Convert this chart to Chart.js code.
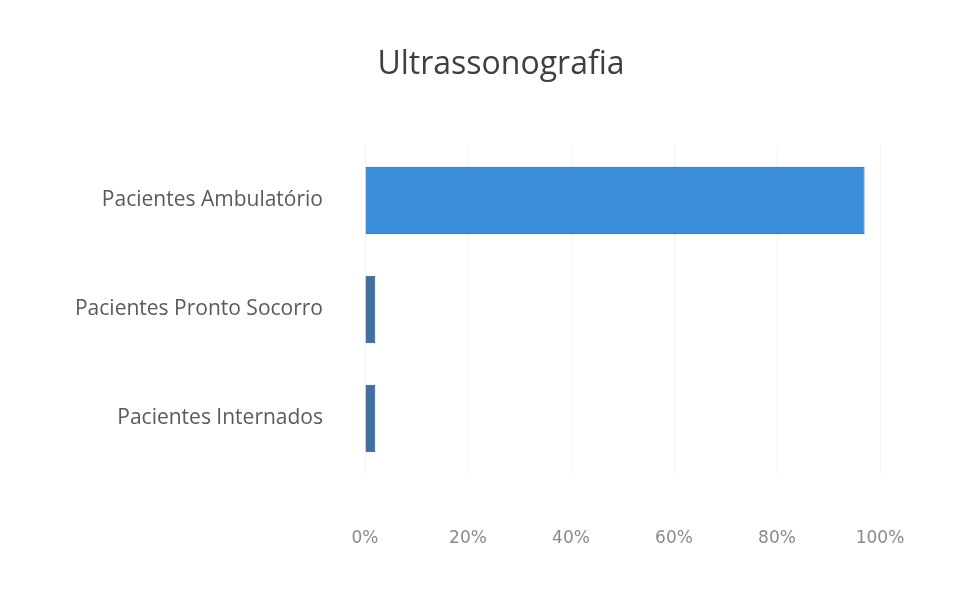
<!DOCTYPE html>
<html lang="pt">
<head>
<meta charset="UTF-8">
<title>Ultrassonografia</title>
<style>
  body { margin:0; padding:0; background:#fff; }
  #wrap { width:978px; height:605px; }
</style>
</head>
<body>
<div id="wrap"><canvas id="chart" width="978" height="605"></canvas></div>

<script src="https://cdn.jsdelivr.net/npm/chart.js@4"></script>
<script>
const titulo = 'Ultrassonografia';
const categorias = ["Pacientes Ambulatório", "Pacientes Pronto Socorro", "Pacientes Internados"];
const valores = [97, 2, 2];
const cores = ["#3b8dd8", "#41709f", "#41709f"];
const ticksX = [0, 20, 40, 60, 80, 100];

// title is drawn by hand: the scan has it centred over the page, not over the plot
const tituloPlugin = {
  id: 'tituloPlugin',
  afterDraw(chart) {
    const c = chart.ctx;
    c.save();
    c.font = '32px "Open Sans"';
    c.fillStyle = '#3f3f3f';
    c.textAlign = 'center';
    c.textBaseline = 'middle';
    c.fillText(titulo, 501, 65);
    c.restore();
  }
};

const ctx = document.getElementById('chart').getContext('2d');
new Chart(ctx, {
  type: 'bar',
  data: {
    labels: categorias,
    datasets: [{ data: valores, backgroundColor: cores, borderColor: '#2b4f73', borderWidth: 1,
                 barPercentage: 0.62, categoryPercentage: 1 }]
  },
  options: {
    indexAxis: 'y',
    responsive: false,
    animation: false,
    layout: { padding: { left: 0, right: 98, top: 146, bottom: 0 } },
    plugins: {
      legend: { display: false },
      tooltip: { enabled: false },
      title: { display: false }
    },
    scales: {
      x: {
        min: 0, max: 100,
        afterBuildTicks: s => { s.ticks = ticksX.map(v => ({ value: v })); },
        afterFit: s => { s.height = 132; },
        grid: { color: '#f3f3f3', drawTicks: false },
        border: { display: false },
        ticks: { padding: 55, color: '#8a8a8a', font: { family: 'DejaVu Sans', size: 17 },
                 callback: v => v + '%' }
      },
      y: {
        afterFit: s => { s.width = 365; },
        grid: { display: false },
        border: { display: false },
        ticks: { padding: 34, color: '#5a5a5a', font: { family: 'Open Sans', size: 21 } }
      }
    }
  },
  plugins: [tituloPlugin]
});
</script>
</body>
</html>
